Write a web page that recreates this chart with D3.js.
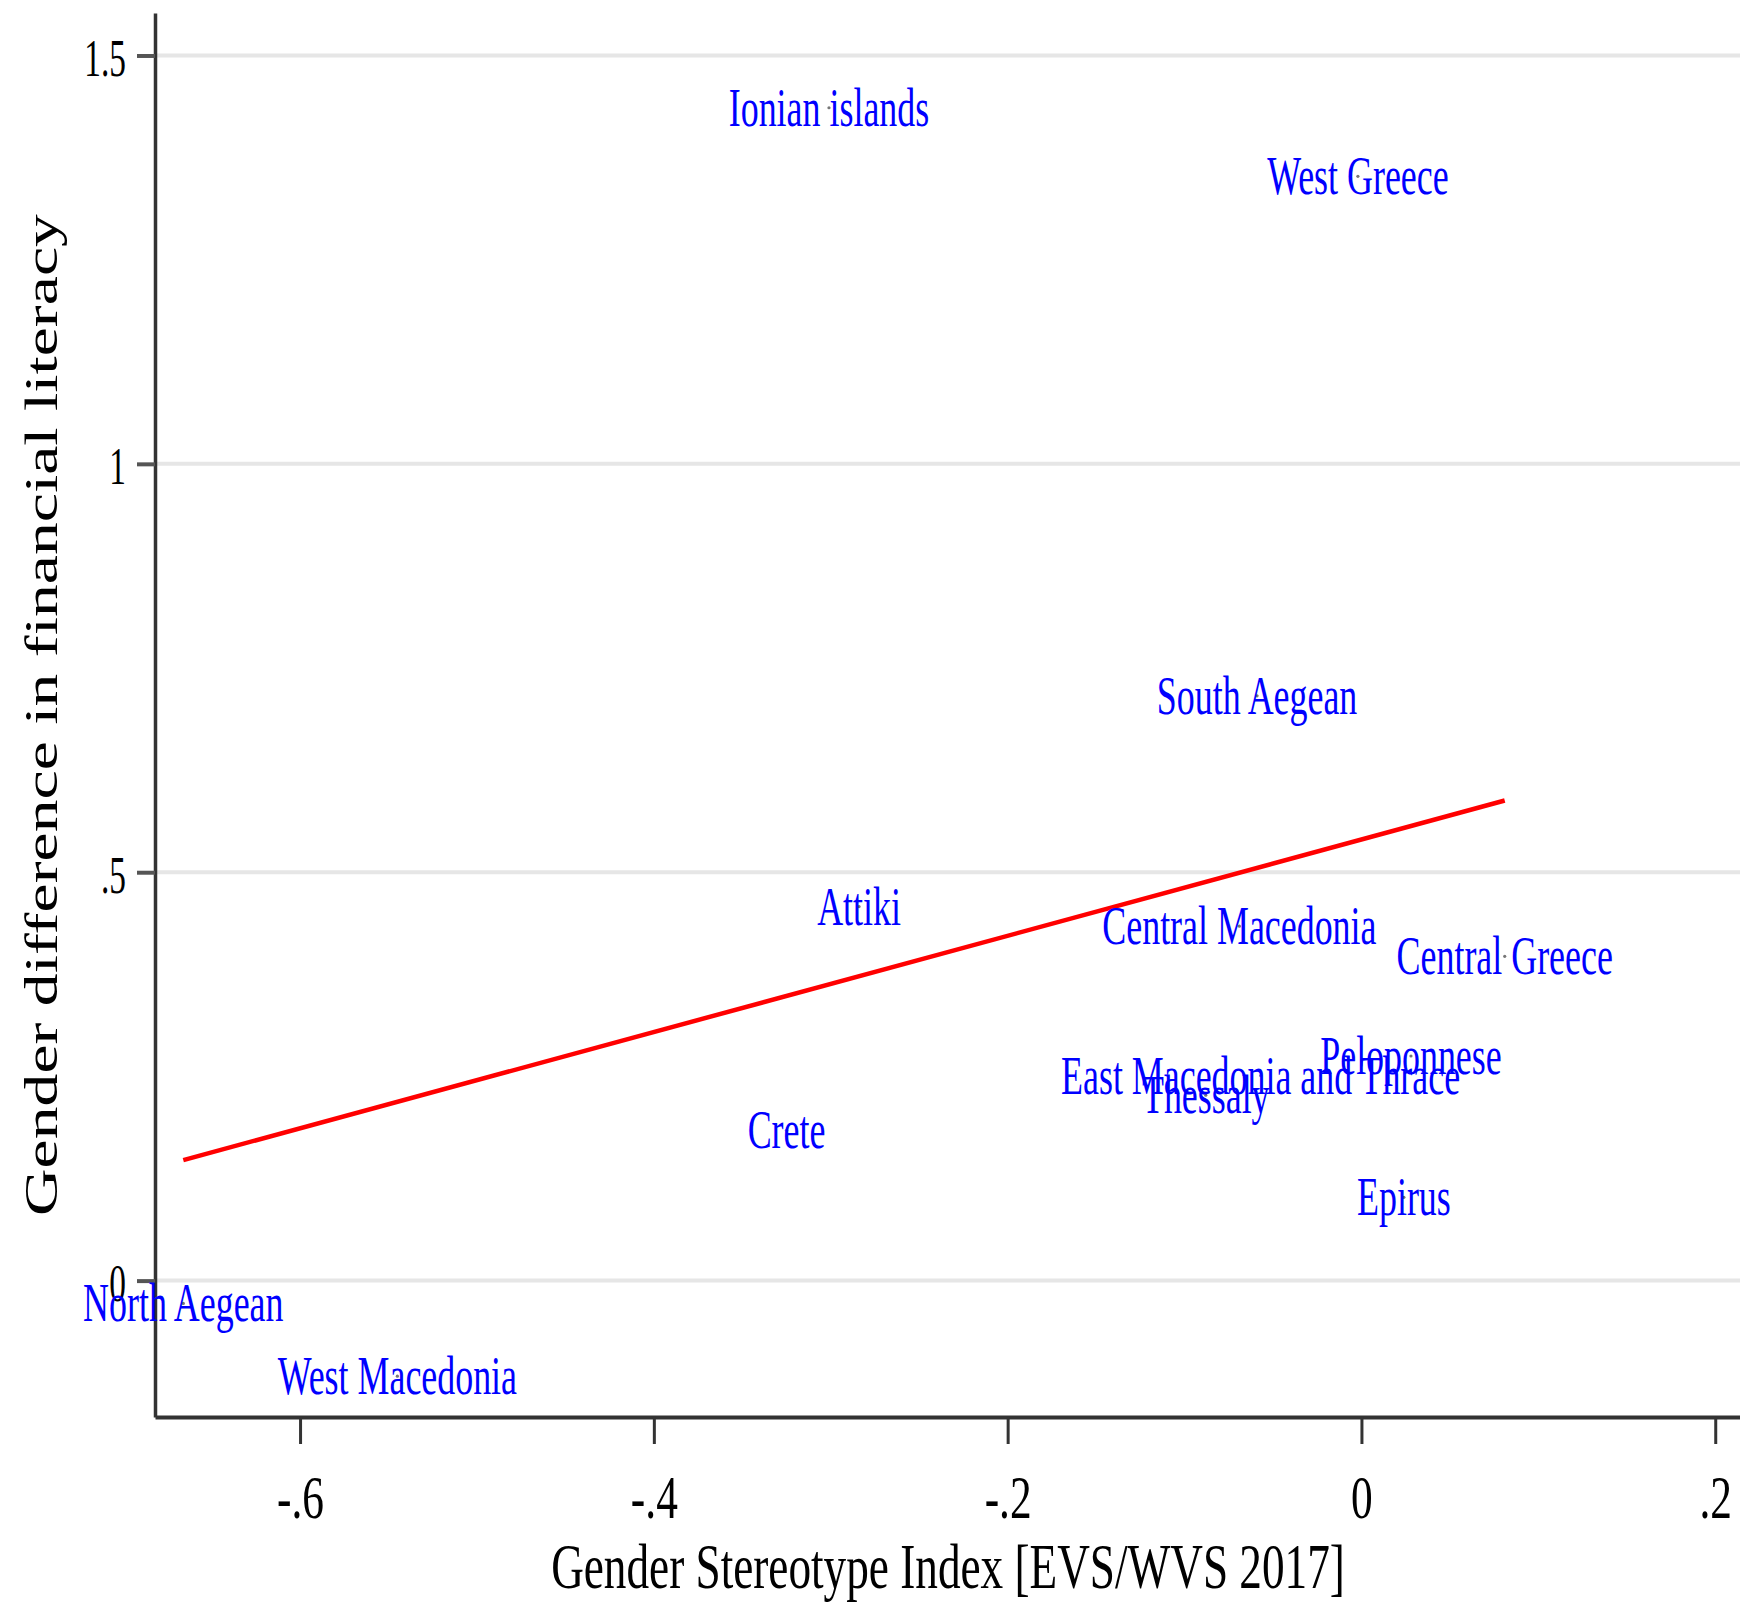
<!DOCTYPE html>
<html>
<head>
<meta charset="utf-8">
<script src="https://cdn.jsdelivr.net/npm/d3@7"></script>
<style>
  body { margin: 0; background: #fff; }
  svg { display: block; }
</style>
</head>
<body>
<svg id="chart"></svg>
<script>
// region labels, placed at (index, gap)
const regions = ["Ionian islands", "West Greece", "South Aegean", "Attiki", "Central Macedonia",
  "Central Greece", "Peloponnese", "East Macedonia and Thrace", "Thessaly", "Crete",
  "Epirus", "North Aegean", "West Macedonia"];
const stereotypeIndex = [-0.301, -0.002, -0.059, -0.284, -0.069, 0.081, 0.028, -0.057, -0.088, -0.325, 0.024, -0.666, -0.545];
const literacyGap = [1.436, 1.352, 0.716, 0.458, 0.434, 0.397, 0.275, 0.251, 0.227, 0.184, 0.102, -0.028, -0.117];

const xTicks = [-0.6, -0.4, -0.2, 0, 0.2];
const xTickLabels = ["-.6", "-.4", "-.2", "0", ".2"];
const yTicks = [0, 0.5, 1, 1.5];
const yTickLabels = ["0", ".5", "1", "1.5"];

const W = 1740, H = 1602;
const serif = "'Liberation Serif', 'Times New Roman', serif";

const svg = d3.select("#chart").attr("width", W).attr("height", H);

const data = regions.map((r, i) => ({name: r, x: stereotypeIndex[i], y: literacyGap[i]}));

// scales (axis extents run past the outer ticks)
const x = d3.scaleLinear().domain([-0.682, 0.214]).range([155, 1740]);
const y = d3.scaleLinear().domain([-0.167, 1.552]).range([1417, 13]);

// gridlines
svg.append("g")
  .selectAll("line")
  .data(yTicks)
  .enter().append("line")
  .attr("x1", 157).attr("x2", W)
  .attr("y1", d => y(d)).attr("y2", d => y(d))
  .attr("stroke", "#e6e6e6")
  .attr("stroke-width", 4);

// Y axis
const yAxis = svg.append("g")
  .attr("transform", "translate(155,0)")
  .call(d3.axisLeft(y).tickValues(yTicks).tickSize(18).tickSizeOuter(0).tickFormat((d, i) => yTickLabels[i]));
yAxis.select(".domain").attr("stroke", "#333").attr("stroke-width", 3.5);
yAxis.selectAll(".tick line").attr("stroke", "#555").attr("stroke-width", 4);
yAxis.selectAll(".tick text")
  .attr("font-family", serif)
  .attr("font-size", 53)
  .attr("fill", "#000")
  .attr("x", -29 / 0.63)
  .attr("dy", null)
  .attr("y", 20)
  .attr("transform", "scale(0.63,1)");

// X axis
const xAxis = svg.append("g")
  .attr("transform", "translate(0,1417)")
  .call(d3.axisBottom(x).tickValues(xTicks).tickSize(27).tickSizeOuter(0).tickFormat((d, i) => xTickLabels[i]));
xAxis.select(".domain").attr("stroke", "#333").attr("stroke-width", 4);
xAxis.selectAll(".tick line").attr("stroke", "#333").attr("stroke-width", 3);
xAxis.selectAll(".tick text")
  .attr("font-family", serif)
  .attr("font-size", 62)
  .attr("fill", "#000")
  .attr("dy", null)
  .attr("y", 101)
  .attr("transform", "scale(0.7,1)");

// fitted line (OLS over the data range)
const mx = d3.mean(data, d => d.x), my = d3.mean(data, d => d.y);
const slope = d3.sum(data, d => (d.x - mx) * (d.y - my)) / d3.sum(data, d => (d.x - mx) ** 2);
const icpt = my - slope * mx;
const xr = d3.extent(data, d => d.x);
svg.append("path")
  .datum(xr.map(v => [v, icpt + slope * v]))
  .attr("d", d3.line().x(d => x(d[0])).y(d => y(d[1])))
  .attr("fill", "none")
  .attr("stroke", "#ff0000")
  .attr("stroke-width", 4.5);

// tiny markers (mostly hidden by the labels)
svg.append("g")
  .selectAll("circle")
  .data(data)
  .enter().append("circle")
  .attr("cx", d => x(d.x))
  .attr("cy", d => y(d.y))
  .attr("r", 1.6)
  .attr("fill", "#777");

// marker labels, centred on each point
svg.append("g")
  .selectAll("text")
  .data(data)
  .enter().append("text")
  .attr("transform", d => `translate(${x(d.x)},${y(d.y) + 18}) scale(0.665,1)`)
  .attr("text-anchor", "middle")
  .attr("font-family", serif)
  .attr("font-size", 54)
  .attr("fill", "#0000ff")
  .text(d => d.name);

// X axis label
svg.append("text")
  .attr("transform", "translate(948,1588) scale(0.718,1)")
  .attr("text-anchor", "middle")
  .attr("font-family", serif)
  .attr("font-size", 63)
  .text("Gender Stereotype Index [EVS/WVS 2017]");

// Y axis label
svg.append("text")
  .attr("transform", "translate(57,715) rotate(-90) scale(1,0.72)")
  .attr("text-anchor", "middle")
  .attr("font-family", serif)
  .attr("font-size", 65.7)
  .text("Gender difference in financial literacy");
</script>
</body>
</html>
